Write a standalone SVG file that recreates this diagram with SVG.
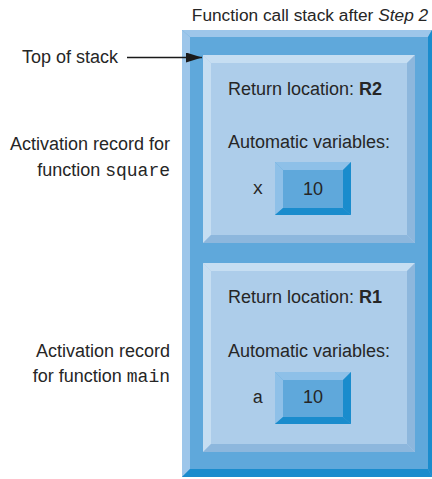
<svg xmlns="http://www.w3.org/2000/svg" width="432" height="479" viewBox="0 0 432 479">
<style>
text{font-family:"Liberation Sans",Arial,sans-serif;font-size:18px;fill:#262626}
.mono{font-family:"Liberation Mono","Courier New",monospace}
.b{font-weight:bold}
.end{text-anchor:end}
.mid{text-anchor:middle}
.omid{fill:#5fa8db}.olt{fill:#9dc6ea}.odk{fill:#1a8ccd}
.rface{fill:#adcdea}.rlt{fill:#c6def2}.rdk{fill:#8db7dd}
.vface{fill:#5fa8db}.vlt{fill:#8ec0e8}.vdk{fill:#1a8ccd}
</style>
<defs>
<marker id="ah" viewBox="0 0 16 10" refX="16" refY="5" markerWidth="16" markerHeight="10" markerUnits="userSpaceOnUse" orient="auto">
<path d="M0,0 L16,5 L0,10 Z" fill="#1a1a1a"/>
</marker>
</defs>
<g id="title"><text x="310" y="21" class="mid" style="font-size:17.3px">Function call stack after <tspan font-style="italic">Step 2</tspan></text></g>
<g id="stack">
<rect x="182" y="30" width="250" height="447" class="omid"/>
<polygon points="182,30 432,30 428,37 190,37" class="olt"/>
<polygon points="182,30 190,37 190,469 182,477" class="olt"/>
<polygon points="432,30 432,477 428,469 428,37" class="odk"/>
<polygon points="182,477 432,477 428,469 190,469" class="odk"/>
</g>
<g id="record-square">
<rect x="203" y="55" width="212" height="188" class="rface"/>
<polygon points="203,55 415,55 407,63 211,63" class="rlt"/>
<polygon points="203,55 211,63 211,235 203,243" class="rlt"/>
<polygon points="415,55 415,243 407,235 407,63" class="rdk"/>
<polygon points="203,243 415,243 407,235 211,235" class="rdk"/>
<text x="228" y="95">Return location: <tspan class="b">R2</tspan></text>
<text x="228" y="148">Automatic variables:</text>
<text x="258" y="194" class="mono mid">x</text>
</g>
<g id="value-x">
<rect x="275" y="162" width="76" height="53" class="vface"/>
<polygon points="275,162 351,162 343,170 283,170" class="vlt"/>
<polygon points="275,162 283,170 283,208 275,215" class="vlt"/>
<polygon points="351,162 351,215 343,208 343,170" class="vdk"/>
<polygon points="275,215 351,215 343,208 283,208" class="vdk"/>
<text x="313" y="195" class="mid">10</text>
</g>
<g id="record-main">
<rect x="203" y="263" width="212" height="189" class="rface"/>
<polygon points="203,263 415,263 407,271 211,271" class="rlt"/>
<polygon points="203,263 211,271 211,444 203,452" class="rlt"/>
<polygon points="415,263 415,452 407,444 407,271" class="rdk"/>
<polygon points="203,452 415,452 407,444 211,444" class="rdk"/>
<text x="228" y="303">Return location: <tspan class="b">R1</tspan></text>
<text x="228" y="357">Automatic variables:</text>
<text x="258" y="403" class="mono mid">a</text>
</g>
<g id="value-a">
<rect x="275" y="372" width="76" height="52" class="vface"/>
<polygon points="275,372 351,372 343,380 283,380" class="vlt"/>
<polygon points="275,372 283,380 283,417 275,424" class="vlt"/>
<polygon points="351,372 351,424 343,417 343,380" class="vdk"/>
<polygon points="275,424 351,424 343,417 283,417" class="vdk"/>
<text x="313" y="403" class="mid">10</text>
</g>
<g id="label-top"><text x="118" y="63" class="end">Top of stack</text></g>
<g id="label-square">
<text x="170" y="150" class="end">Activation record for</text>
<text x="170" y="176" class="end">function <tspan class="mono">square</tspan></text>
</g>
<g id="label-main">
<text x="170" y="357" class="end">Activation record</text>
<text x="170" y="382" class="end">for function <tspan class="mono">main</tspan></text>
</g>
<g id="connectors">
<line x1="127" y1="57.5" x2="202" y2="57.5" stroke="#1a1a1a" stroke-width="1.5" marker-end="url(#ah)"/>
</g>
</svg>
